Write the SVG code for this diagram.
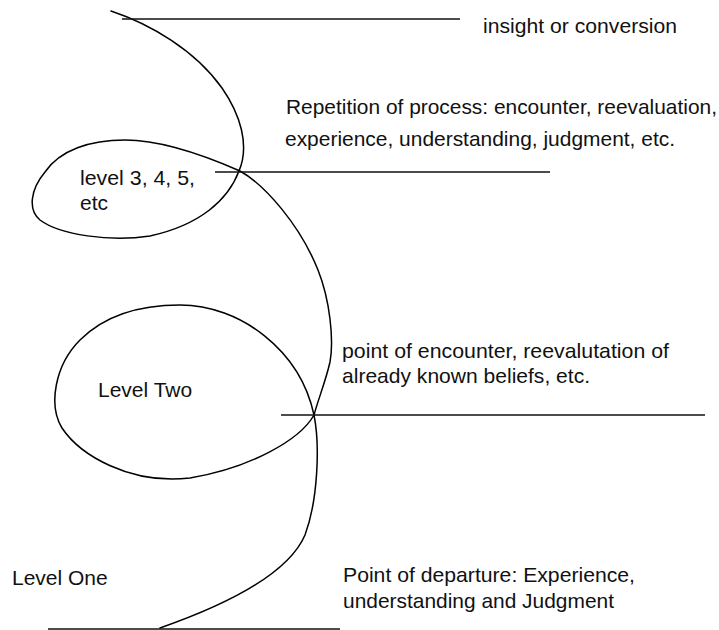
<svg xmlns="http://www.w3.org/2000/svg" width="719" height="630" viewBox="0 0 719 630">
  <style>
    .bg { fill: #ffffff; }
    .curve { fill: none; stroke: #000000; stroke-width: 1.5; stroke-linejoin: round; stroke-linecap: round; }
    .rule { stroke: #111111; stroke-width: 1.6; fill: none; }
    .lbl { font-family: "Liberation Sans", Arial, sans-serif; font-size: 21px; fill: #111111; }
  </style>
  <rect class="bg" x="0" y="0" width="719" height="630"/>
  <g id="connectors">
    <path id="spiral" class="curve" d="M111,11
      C150,24 195,50 222,88
      C240,114 250,145 239,171
      C228,200 200,225 150,236
      C110,242 60,235 40,220
      C28,210 30,190 45,172
      C60,150 90,140 125,140
      C165,140 215,160 240,171
      C265,185 300,225 318,270
      C330,300 334,340 330,362
      C326,380 318,400 314,415
      C300,440 250,468 190,478
      C130,485 80,455 62,428
      C48,405 55,365 80,340
      C105,315 140,305 180,305
      C240,305 300,350 314,415
      C320,445 318,500 305,535
      C290,570 240,600 160,628"/>
    <line id="line-insight" class="rule" x1="122" y1="19" x2="460" y2="19"/>
    <line id="line-level3" class="rule" x1="215" y1="172" x2="550" y2="172"/>
    <line id="line-level2" class="rule" x1="281" y1="415" x2="705" y2="415"/>
    <line id="line-level1" class="rule" x1="48" y1="629" x2="340" y2="629"/>
  </g>
  <g id="label-insight">
    <text class="lbl" x="483" y="33" textLength="194" lengthAdjust="spacingAndGlyphs">insight or conversion</text>
  </g>
  <g id="label-repetition">
    <text class="lbl" x="286" y="114" textLength="431" lengthAdjust="spacingAndGlyphs">Repetition of process: encounter, reevaluation,</text>
    <text class="lbl" x="285" y="146" textLength="390" lengthAdjust="spacingAndGlyphs">experience, understanding, judgment, etc.</text>
  </g>
  <g id="label-level3">
    <text class="lbl" x="80" y="185" textLength="115" lengthAdjust="spacingAndGlyphs">level 3, 4, 5,</text>
    <text class="lbl" x="80" y="210">etc</text>
  </g>
  <g id="label-encounter">
    <text class="lbl" x="342" y="358" textLength="327" lengthAdjust="spacingAndGlyphs">point of encounter, reevalutation of</text>
    <text class="lbl" x="342" y="383" textLength="248" lengthAdjust="spacingAndGlyphs">already known beliefs, etc.</text>
  </g>
  <g id="label-level2">
    <text class="lbl" x="98" y="397">Level Two</text>
  </g>
  <g id="label-level1">
    <text class="lbl" x="12" y="585">Level One</text>
  </g>
  <g id="label-departure">
    <text class="lbl" x="343" y="582" textLength="292" lengthAdjust="spacingAndGlyphs">Point of departure: Experience,</text>
    <text class="lbl" x="343" y="608" textLength="271" lengthAdjust="spacingAndGlyphs">understanding and Judgment</text>
  </g>
</svg>
